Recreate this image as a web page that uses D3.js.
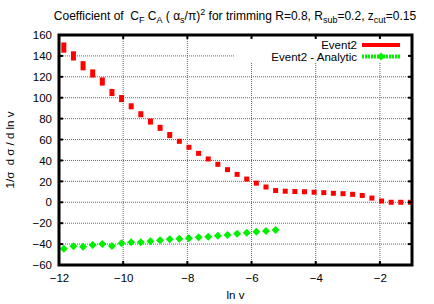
<!DOCTYPE html>
<html>
<head>
<meta charset="utf-8">
<script src="https://cdn.jsdelivr.net/npm/d3@7"></script>
<style>
  body { margin: 0; background: #fff; }
  svg text { font-family: "Liberation Sans", Arial, Helvetica, sans-serif; fill: #000; }
</style>
</head>
<body>
<div id="chart"></div>
<script>
// ln v positions (bin centres)
const lnvEvent = d3.range(37).map(k => -11.85 + 0.3 * k)
const lnvAnalytic = d3.range(23).map(k => -11.85 + 0.3 * k)

const event2 = [148, 140, 130.6, 123.2, 115.5, 105, 99.2, 91.8, 84.2, 77.2, 71.2, 64.3,
  58.3, 52.6, 46.8, 41.4, 36.3, 31.2, 26.7, 22.2, 18.3, 14.6, 11.2, 10.6, 10.3, 10.1,
  9.6, 9.2, 8.6, 8.2, 7.6, 6.5, 4, 1.2, 0, 0, 0]
const event2Err = [2.5, 2, 2, 1.5, 1.5, 1, 1, 0.5, 0.5, 0.5, 0.5, 0.5,
  0, 0, 0, 0, 0, 0, 0, 0, 0, 0, 0, 0, 0, 0, 0, 0, 0, 0, 0, 0, 0, 0, 0, 0, 0]
const event2Analytic = [-44.5, -42.1, -42.5, -40.9, -39.9, -41.8, -39.3, -38.3, -38.3,
  -37.3, -36.4, -35.4, -35, -34.5, -33.5, -32.9, -32, -31.2, -30.2, -29.2, -28.1, -27.5, -26.5]

const xTicks = [-12, -10, -8, -6, -4, -2]
const yTicks = [-60, -40, -20, 0, 20, 40, 60, 80, 100, 120, 140, 160]
const legendLabels = ['Event2', 'Event2 - Analytic']

const canvasWidth = 434
const canvasHeight = 304
const margins = {top: 35, right: 22, bottom: 39, left: 59}
const width = canvasWidth - margins.left - margins.right
const height = canvasHeight - margins.top - margins.bottom

const xScale = d3.scaleLinear().domain([-12, -1]).range([0, width])
const yScale = d3.scaleLinear().domain([-60, 160]).range([height, 0])

const root = d3
  .select('#chart')
  .append('svg')
  .attr('width', canvasWidth)
  .attr('height', canvasHeight)

const svg = root
  .append('g')
  .attr('transform', `translate(${margins.left}, ${margins.top})`)

// grid
const grid = svg.append('g')
grid
  .selectAll('line.gx')
  .data(xTicks)
  .enter()
  .append('line')
  .attr('x1', d => xScale(d))
  .attr('x2', d => xScale(d))
  .attr('y1', 0)
  .attr('y2', height)
  .attr('stroke', '#666')
  .attr('stroke-width', 1)
  .attr('stroke-dasharray', '1,1')
grid
  .selectAll('line.gy')
  .data(yTicks)
  .enter()
  .append('line')
  .attr('x1', 0)
  .attr('x2', width)
  .attr('y1', d => yScale(d))
  .attr('y2', d => yScale(d))
  .attr('stroke', '#666')
  .attr('stroke-width', 1)
  .attr('stroke-dasharray', '1,1')

// legend box hides the grid behind it
svg
  .append('rect')
  .attr('x', 176)
  .attr('y', 0)
  .attr('width', width - 176)
  .attr('height', 28)
  .attr('fill', '#fff')

// Event2 points
svg
  .append('g')
  .selectAll('rect')
  .data(event2)
  .enter()
  .append('rect')
  .attr('x', (d, i) => xScale(lnvEvent[i]) - 2.5)
  .attr('y', (d, i) => yScale(d + event2Err[i]) - 2.5)
  .attr('width', 5)
  .attr('height', (d, i) => yScale(d - event2Err[i]) - yScale(d + event2Err[i]) + 5)
  .attr('fill', '#ff0000')

// Analytic points
const diamond = (cx, cy, r) =>
  `M${cx},${cy - r}L${cx + r},${cy}L${cx},${cy + r}L${cx - r},${cy}Z`
svg
  .append('g')
  .selectAll('path')
  .data(event2Analytic)
  .enter()
  .append('path')
  .attr('d', (d, i) => diamond(xScale(lnvAnalytic[i]), yScale(d), 4))
  .attr('fill', '#00f000')

// axes
const xAxis = d3.axisBottom(xScale).tickValues(xTicks).tickSize(0).tickPadding(9)
const yAxis = d3.axisLeft(yScale).tickValues(yTicks).tickSize(0).tickPadding(7)

const gx = svg.append('g').attr('transform', `translate(0, ${height})`).call(xAxis)
const gy = svg.append('g').call(yAxis)
;[gx, gy].forEach(g => {
  g.select('.domain').remove()
  g.selectAll('text').attr('font-size', '11.5px').attr('font-family', '"Liberation Sans", Arial, sans-serif')
})

// inward ticks on all four sides
const ticks = svg.append('g').attr('stroke', '#000').attr('stroke-width', 2)
xTicks.forEach(t => {
  ticks.append('line').attr('x1', xScale(t)).attr('x2', xScale(t)).attr('y1', height).attr('y2', height - 4)
  ticks.append('line').attr('x1', xScale(t)).attr('x2', xScale(t)).attr('y1', 0).attr('y2', 4)
})
yTicks.forEach(t => {
  ticks.append('line').attr('x1', 0).attr('x2', 4).attr('y1', yScale(t)).attr('y2', yScale(t))
  ticks.append('line').attr('x1', width).attr('x2', width - 4).attr('y1', yScale(t)).attr('y2', yScale(t))
})

svg
  .append('rect')
  .attr('width', width)
  .attr('height', height)
  .attr('fill', 'none')
  .attr('stroke', '#000')
  .attr('stroke-width', 3)

// legend
const legend = svg.append('g')
legend
  .selectAll('text')
  .data(legendLabels)
  .enter()
  .append('text')
  .attr('x', 298)
  .attr('y', (d, i) => 14 + i * 11.5)
  .attr('text-anchor', 'end')
  .attr('font-size', '11.5px')
  .text(d => d)
legend
  .append('line')
  .attr('x1', 303).attr('x2', 341)
  .attr('y1', 10).attr('y2', 10)
  .attr('stroke', '#ff0000').attr('stroke-width', 4)
legend
  .append('line')
  .attr('x1', 303).attr('x2', 341)
  .attr('y1', 21.5).attr('y2', 21.5)
  .attr('stroke', '#00f000').attr('stroke-width', 4)
  .attr('stroke-dasharray', '2,1')
legend
  .append('path')
  .attr('d', diamond(322, 21.5, 4))
  .attr('fill', '#00f000')

// title
const title = root
  .append('text')
  .attr('x', 235)
  .attr('y', 20)
  .attr('text-anchor', 'middle')
  .attr('font-size', '12px')
const parts = [
  ['Coefficient of  C', 0], ['F', 1], [' C', 0], ['A', 1], [' ( α', 0], ['s', 1],
  ['/π)', 0], ['2', -1], [' for trimming R=0.8, R', 0], ['sub', 1], ['=0.2, z', 0],
  ['cut', 1], ['=0.15', 0],
]
let shift = 0
parts.forEach(([t, s]) => {
  const target = s === 1 ? 3 : s === -1 ? -5 : 0
  title
    .append('tspan')
    .attr('dy', target - shift)
    .attr('font-size', s === 0 ? '12px' : '9px')
    .style('white-space', 'pre')
    .text(t)
  shift = target
})

// axis labels
root
  .append('text')
  .attr('x', margins.left + width / 2)
  .attr('y', 299)
  .attr('text-anchor', 'middle')
  .attr('font-size', '11.5px')
  .text('ln v')

root
  .append('text')
  .attr('transform', `translate(14, ${margins.top + height / 2}) rotate(-90)`)
  .attr('text-anchor', 'middle')
  .attr('font-size', '11.5px')
  .style('white-space', 'pre')
  .text('1/σ  d σ / d ln v')
</script>
</body>
</html>
